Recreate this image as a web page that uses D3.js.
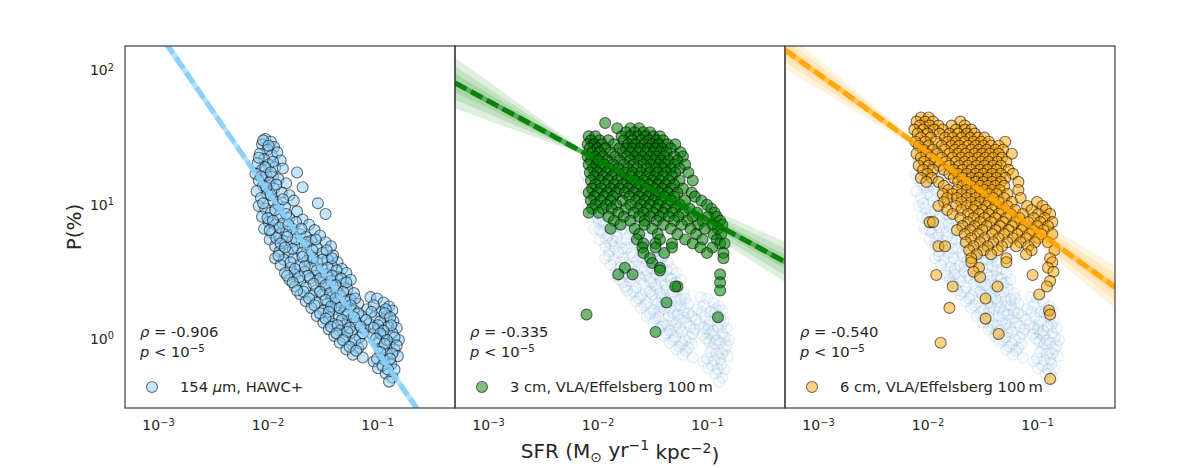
<!DOCTYPE html>
<html>
<head>
<meta charset="utf-8">
<script src="https://cdn.jsdelivr.net/npm/d3@7"></script>
<style>
  html, body { margin: 0; background: #fff; }
  svg { display: block; font-family: "DejaVu Sans", sans-serif; }
</style>
</head>
<body>
<svg id="chart" width="1196" height="468"></svg>
<script>
// ── Data ───────────────────────────────────────────────────────────────────
// HAWC+ 154 µm points: [log10 SFR, log10 P(%)]
const hawcPoints = [
  [-2.02, 1.47], [-1.97, 1.45], [-2.05, 1.43], [-1.94, 1.41], [-2.00, 1.39], [-2.07, 1.36], [-1.96, 1.35],
  [-1.91, 1.37], [-2.03, 1.32], [-1.88, 1.31], [-2.09, 1.29], [-1.99, 1.28], [-1.93, 1.26], [-2.05, 1.24],
  [-1.86, 1.25], [-2.11, 1.21], [-2.01, 1.20], [-1.95, 1.19], [-1.73, 1.22], [-2.08, 1.16], [-1.98, 1.15],
  [-1.90, 1.17], [-1.83, 1.14], [-2.04, 1.12], [-1.94, 1.10], [-1.68, 1.11], [-2.10, 1.08], [-2.00, 1.06],
  [-1.87, 1.07], [-1.80, 1.05], [-2.06, 1.03], [-1.95, 1.01], [-1.90, 0.98], [-1.76, 1.01], [-2.08, 0.97],
  [-2.02, 0.95], [-1.84, 0.96], [-1.54, 0.99], [-1.97, 0.92], [-1.89, 0.90], [-1.73, 0.93], [-1.47, 0.91],
  [-2.05, 0.89], [-1.80, 0.88], [-1.68, 0.87], [-1.99, 0.85], [-1.93, 0.83], [-1.86, 0.84], [-1.62, 0.83],
  [-2.03, 0.80], [-1.77, 0.80], [-1.57, 0.79], [-1.96, 0.77], [-1.90, 0.75], [-1.83, 0.78], [-1.70, 0.76],
  [-1.65, 0.74], [-1.52, 0.75], [-1.98, 0.72], [-1.86, 0.71], [-1.78, 0.70], [-1.60, 0.71], [-1.47, 0.70],
  [-1.93, 0.67], [-1.73, 0.66], [-1.66, 0.68], [-1.55, 0.66], [-1.42, 0.67], [-1.89, 0.63], [-1.81, 0.62],
  [-1.69, 0.62], [-1.61, 0.60], [-1.50, 0.62], [-1.40, 0.60], [-1.93, 0.58], [-1.85, 0.57], [-1.76, 0.58],
  [-1.64, 0.56], [-1.55, 0.55], [-1.45, 0.57], [-1.36, 0.55], [-1.88, 0.53], [-1.79, 0.51], [-1.71, 0.53],
  [-1.60, 0.51], [-1.50, 0.50], [-1.41, 0.52], [-1.32, 0.50], [-1.84, 0.47], [-1.75, 0.46], [-1.66, 0.48],
  [-1.56, 0.45], [-1.46, 0.46], [-1.36, 0.44], [-1.28, 0.47], [-1.80, 0.42], [-1.70, 0.41], [-1.61, 0.43],
  [-1.51, 0.40], [-1.42, 0.41], [-1.31, 0.39], [-1.24, 0.42], [-1.75, 0.37], [-1.65, 0.36], [-1.56, 0.34],
  [-1.46, 0.36], [-1.37, 0.34], [-1.27, 0.35], [-1.21, 0.32], [-1.70, 0.31], [-1.60, 0.30], [-1.50, 0.31],
  [-1.41, 0.29], [-1.33, 0.30], [-1.24, 0.27], [-1.06, 0.29], [-1.00, 0.28], [-1.65, 0.26], [-1.55, 0.25],
  [-1.45, 0.24], [-1.36, 0.25], [-1.28, 0.22], [-1.17, 0.24], [-0.94, 0.25], [-0.89, 0.22], [-1.60, 0.21],
  [-1.49, 0.19], [-1.39, 0.20], [-1.31, 0.17], [-1.21, 0.19], [-1.09, 0.20], [-0.97, 0.18], [-0.86, 0.19],
  [-1.55, 0.15], [-1.44, 0.14], [-1.35, 0.15], [-1.25, 0.12], [-1.14, 0.15], [-1.02, 0.14], [-0.91, 0.15],
  [-1.49, 0.10], [-1.40, 0.09], [-1.29, 0.08], [-1.19, 0.10], [-1.07, 0.09], [-0.97, 0.11], [-0.85, 0.11],
  [-1.44, 0.05], [-1.34, 0.04], [-1.23, 0.03], [-1.11, 0.05], [-0.99, 0.05], [-0.90, 0.07], [-0.82, 0.06],
  [-1.39, 0.00], [-1.29, -0.01], [-1.16, -0.01], [-1.04, 0.01], [-0.94, 0.00], [-0.86, 0.02], [-1.34, -0.05],
  [-1.23, -0.06], [-0.98, -0.04], [-0.88, -0.05], [-0.80, -0.03], [-1.28, -0.10], [-1.17, -0.09], [-0.95, -0.09],
  [-0.84, -0.10], [-1.22, -0.14], [-1.13, -0.16], [-0.91, -0.13], [-0.81, -0.15], [-1.03, -0.19], [-0.93, -0.18],
  [-0.87, -0.21], [-0.99, -0.24], [-0.84, -0.25], [-0.92, -0.28], [-0.86, -0.31], [-0.89, -0.34],
  [-2.04, 1.46], [-1.99, 1.42], [-2.08, 1.33], [-1.95, 1.30], [-2.02, 1.26], [-1.97, 1.22], [-2.06, 1.19],
  [-1.92, 1.13], [-2.01, 1.11], [-1.97, 1.05], [-2.04, 0.99], [-1.86, 1.02], [-1.93, 0.94], [-2.00, 0.88],
  [-1.83, 0.91], [-1.95, 0.86], [-1.74, 0.85], [-1.89, 0.81], [-1.81, 0.83], [-1.98, 0.79], [-1.69, 0.80],
  [-1.92, 0.73], [-1.74, 0.72], [-1.82, 0.74], [-1.64, 0.70], [-1.56, 0.72], [-1.88, 0.69], [-1.77, 0.65],
  [-1.59, 0.64], [-1.84, 0.66], [-1.46, 0.64], [-1.68, 0.59], [-1.90, 0.60], [-1.58, 0.58], [-1.79, 0.55],
  [-1.50, 0.57], [-1.41, 0.58], [-1.66, 0.52], [-1.75, 0.50], [-1.55, 0.49], [-1.45, 0.51], [-1.37, 0.49],
  [-1.82, 0.45], [-1.63, 0.45], [-1.71, 0.44], [-1.52, 0.43], [-1.41, 0.45], [-1.33, 0.43], [-1.77, 0.40],
  [-1.58, 0.39], [-1.47, 0.38], [-1.38, 0.38], [-1.28, 0.40], [-1.67, 0.33], [-1.52, 0.33], [-1.43, 0.32],
  [-1.31, 0.33], [-1.73, 0.34], [-1.62, 0.28], [-1.47, 0.27], [-1.38, 0.28], [-1.29, 0.26], [-1.20, 0.28],
  [-1.57, 0.23], [-1.42, 0.22], [-1.34, 0.21], [-1.24, 0.23], [-1.03, 0.23], [-0.92, 0.20], [-1.52, 0.17],
  [-1.44, 0.18], [-1.27, 0.16], [-1.17, 0.17], [-1.05, 0.18], [-0.93, 0.17], [-0.88, 0.14], [-1.47, 0.13],
  [-1.32, 0.12], [-1.21, 0.14], [-1.10, 0.12], [-0.99, 0.08], [-0.87, 0.08], [-1.42, 0.07], [-1.36, 0.08],
  [-1.25, 0.06], [-1.15, 0.07], [-1.03, 0.06], [-0.94, 0.04], [-1.37, 0.02], [-1.27, 0.03], [-1.13, 0.02],
  [-0.97, 0.02], [-0.84, -0.01], [-1.31, -0.03], [-1.20, -0.03], [-1.01, -0.02], [-0.91, -0.03], [-1.25, -0.08],
  [-1.14, -0.06], [-0.93, -0.06], [-0.82, -0.07], [-1.19, -0.11], [-0.97, -0.12], [-0.86, -0.13], [-1.00, -0.17],
  [-0.88, -0.17], [-0.95, -0.22], [-0.90, -0.25]
];

// Radio points, one row per height: [log10 P(%), [log10 SFR of the points at that height]]
const vla3Rows = [
  [1.59, [-1.93]],
  [1.55, [-1.82, -1.70, -1.62]],
  [1.52, [-1.74, -1.66, -1.58, -1.52]],
  [1.49, [-2.08, -2.02, -1.78, -1.70, -1.63, -1.56, -1.49, -1.43]],
  [1.46, [-2.06, -1.98, -1.90, -1.76, -1.68, -1.60, -1.53, -1.46, -1.40]],
  [1.43, [-2.09, -2.03, -1.96, -1.85, -1.72, -1.65, -1.57, -1.50, -1.44, -1.36, -1.29]],
  [1.40, [-2.07, -2.00, -1.93, -1.80, -1.74, -1.68, -1.61, -1.54, -1.47, -1.41, -1.33]],
  [1.37, [-2.05, -1.98, -1.88, -1.77, -1.70, -1.63, -1.56, -1.49, -1.43, -1.37, -1.24]],
  [1.34, [-2.09, -2.02, -1.95, -1.84, -1.73, -1.66, -1.59, -1.52, -1.46, -1.39, -1.30, -1.22]],
  [1.31, [-2.06, -1.99, -1.91, -1.80, -1.70, -1.62, -1.55, -1.48, -1.42, -1.35, -1.27]],
  [1.28, [-2.08, -2.01, -1.94, -1.86, -1.76, -1.67, -1.58, -1.51, -1.44, -1.38, -1.30, -1.20]],
  [1.25, [-2.04, -1.97, -1.89, -1.81, -1.72, -1.64, -1.55, -1.47, -1.40, -1.33, -1.25]],
  [1.22, [-2.07, -2.00, -1.92, -1.84, -1.75, -1.68, -1.60, -1.52, -1.45, -1.37, -1.29, -1.17]],
  [1.19, [-2.03, -1.95, -1.87, -1.78, -1.70, -1.62, -1.55, -1.48, -1.40, -1.32]],
  [1.16, [-2.06, -1.98, -1.90, -1.82, -1.73, -1.66, -1.58, -1.50, -1.43, -1.35, -1.25, -1.13]],
  [1.13, [-2.02, -1.93, -1.85, -1.77, -1.69, -1.61, -1.53, -1.45, -1.38, -1.30]],
  [1.10, [-2.05, -1.97, -1.88, -1.80, -1.72, -1.64, -1.56, -1.48, -1.41, -1.33, -1.22]],
  [1.07, [-2.08, -2.00, -1.91, -1.83, -1.75, -1.67, -1.59, -1.51, -1.44, -1.36, -1.27, -1.14]],
  [1.04, [-2.03, -1.94, -1.86, -1.71, -1.62, -1.54, -1.47, -1.39, -1.30, -1.11]],
  [1.01, [-2.06, -1.97, -1.88, -1.77, -1.65, -1.57, -1.49, -1.42, -1.33, -1.20, -1.05]],
  [0.98, [-2.02, -1.92, -1.83, -1.70, -1.60, -1.52, -1.44, -1.36, -1.25, -1.00]],
  [0.95, [-2.05, -1.95, -1.87, -1.74, -1.63, -1.55, -1.46, -1.38, -1.29, -1.16, -0.96]],
  [0.92, [-2.08, -1.99, -1.81, -1.67, -1.58, -1.49, -1.40, -1.32, -1.22, -1.09, -0.93]],
  [0.89, [-1.90, -1.76, -1.62, -1.52, -1.43, -1.35, -1.26, -1.13, -0.99, -0.91]],
  [0.86, [-1.85, -1.70, -1.57, -1.46, -1.30, -1.18, -1.04, -0.88]],
  [0.83, [-1.79, -1.57, -1.40, -1.23, -1.08, -0.95, -0.86]],
  [0.80, [-1.88, -1.66, -1.50, -1.33, -1.15, -1.02, -0.90]],
  [0.76, [-1.62, -1.45, -1.27, -1.10, -0.94, -0.87]],
  [0.72, [-1.64, -1.43, -1.20, -1.04, -0.91]],
  [0.69, [-1.58, -1.47, -1.32, -1.13, -0.88, -0.84]],
  [0.66, [-1.59, -1.47, -1.32, -1.06, -0.95]],
  [0.62, [-1.58, -1.39, -1.00, -0.85]],
  [0.58, [-1.52, -0.85]],
  [0.545, [-1.50]],
  [0.51, [-1.75, -1.43]],
  [0.49, [-1.43]],
  [0.46, [-1.81, -1.68, -0.88]],
  [0.40, [-0.88]],
  [0.37, [-1.27, -1.29]],
  [0.34, [-0.88]],
  [0.25, [-1.37]],
  [0.16, [-2.10]],
  [0.14, [-0.90]],
  [0.03, [-1.47]]
];

const vla6Rows = [
  [1.63, [-2.06, -1.99]],
  [1.60, [-2.10, -2.02, -1.95, -1.70]],
  [1.57, [-2.07, -1.98, -1.90, -1.78, -1.66]],
  [1.54, [-2.12, -2.04, -1.94, -1.86, -1.74, -1.66, -1.60]],
  [1.51, [-2.09, -2.00, -1.89, -1.80, -1.72, -1.64, -1.57]],
  [1.48, [-2.06, -1.97, -1.84, -1.77, -1.69, -1.61, -1.54, -1.48]],
  [1.45, [-2.11, -2.02, -1.92, -1.81, -1.74, -1.66, -1.58, -1.51, -1.44, -1.29]],
  [1.42, [-2.08, -1.99, -1.87, -1.78, -1.71, -1.63, -1.56, -1.49, -1.42, -1.35]],
  [1.39, [-2.04, -1.95, -1.84, -1.75, -1.68, -1.60, -1.53, -1.46, -1.38, -1.31]],
  [1.36, [-2.10, -2.01, -1.91, -1.80, -1.72, -1.65, -1.57, -1.50, -1.43, -1.35, -1.23]],
  [1.33, [-2.06, -1.97, -1.87, -1.77, -1.69, -1.62, -1.54, -1.47, -1.40, -1.32]],
  [1.30, [-2.03, -1.93, -1.83, -1.74, -1.66, -1.59, -1.51, -1.44, -1.36, -1.28]],
  [1.27, [-2.08, -1.99, -1.89, -1.80, -1.71, -1.63, -1.55, -1.48, -1.40, -1.33]],
  [1.24, [-2.04, -1.95, -1.85, -1.76, -1.68, -1.60, -1.52, -1.45, -1.37, -1.26]],
  [1.21, [-2.00, -1.80, -1.72, -1.64, -1.56, -1.49, -1.41, -1.33, -1.22]],
  [1.18, [-2.06, -1.96, -1.76, -1.68, -1.60, -1.53, -1.45, -1.37, -1.29]],
  [1.15, [-2.01, -1.90, -1.72, -1.64, -1.56, -1.49, -1.41, -1.33, -1.17]],
  [1.12, [-1.85, -1.68, -1.60, -1.52, -1.45, -1.38, -1.30]],
  [1.09, [-1.81, -1.73, -1.64, -1.56, -1.48, -1.41, -1.34, -1.17]],
  [1.06, [-1.86, -1.77, -1.69, -1.60, -1.52, -1.44, -1.37, -1.27]],
  [1.03, [-1.82, -1.73, -1.64, -1.56, -1.48, -1.40, -1.30, -1.15]],
  [1.00, [-1.85, -1.69, -1.60, -1.52, -1.44, -1.35, -1.23, -1.00]],
  [0.97, [-1.90, -1.74, -1.64, -1.56, -1.46, -1.38, -1.27, -1.09, -0.95]],
  [0.94, [-1.82, -1.69, -1.58, -1.50, -1.41, -1.32, -1.20, -1.05, -0.92]],
  [0.91, [-1.77, -1.63, -1.53, -1.44, -1.35, -1.24, -1.13, -0.99, -0.88]],
  [0.88, [-1.70, -1.58, -1.48, -1.38, -1.28, -1.16, -1.03, -0.93]],
  [0.85, [-1.98, -1.95, -1.63, -1.52, -1.42, -1.31, -1.20, -1.08, -0.97, -0.86]],
  [0.82, [-1.68, -1.57, -1.46, -1.34, -1.23, -1.12, -1.00, -0.90]],
  [0.79, [-1.73, -1.61, -1.50, -1.38, -1.26, -1.14, -1.04, -0.94]],
  [0.76, [-1.66, -1.54, -1.41, -1.30, -1.18, -1.07, -0.96, -0.86]],
  [0.73, [-1.60, -1.48, -1.35, -1.22, -1.10, -0.99]],
  [0.70, [-1.65, -1.52, -1.40, -1.27, -1.15, -1.02, -0.90]],
  [0.67, [-1.90, -1.84, -1.58, -1.45, -1.32, -1.19, -1.08]],
  [0.64, [-1.62, -1.49, -1.36, -1.05, -0.84]],
  [0.61, [-1.55, -1.42, -1.10]],
  [0.58, [-1.60, -1.28, -0.88]],
  [0.55, [-1.60, -1.28, -0.86]],
  [0.51, [-1.53, -0.90]],
  [0.48, [-1.58, -0.85]],
  [0.455, [-1.92, -1.04]],
  [0.44, [-1.52]],
  [0.41, [-0.88]],
  [0.37, [-1.77, -1.36, -0.91]],
  [0.31, [-0.98]],
  [0.28, [-1.47]],
  [0.21, [-1.80]],
  [0.19, [-0.89]],
  [0.16, [-0.88]],
  [0.13, [-1.47]],
  [0.015, [-1.35]],
  [-0.05, [-1.88]],
  [-0.32, [-0.88]]
];

// Panel metadata
const panelColors = ['#87cefa', '#008000', '#ffa500'];
const panelLabels = ['154 \u03bcm, HAWC+', '3 cm, VLA/Effelsberg 100\u2009m', '6 cm, VLA/Effelsberg 100\u2009m'];
const panelRho = ['-0.906', '-0.335', '-0.540'];

// Fit lines in log10 space: log P = slope * log SFR + intercept
const fitSlope = [-1.19, -0.443, -0.587];
const fitIntercept = [-1.298, 0.426, 0.196];
// Confidence bands: pivot (log SFR) and half-widths (dex) at the left/right edges
const bandPivot = [-1.60, -2.07, -1.89];
const bandLeft = [[0.07, 0.045, 0.025], [0.19, 0.125, 0.07], [0.14, 0.09, 0.045]];
const bandRight = [[0.07, 0.045, 0.025], [0.15, 0.10, 0.05], [0.16, 0.10, 0.05]];

const xTicks = [1e-3, 1e-2, 1e-1];
const xTickExp = ['\u22123', '\u22122', '\u22121'];
const yTicks = [1, 10, 100];
const yTickExp = ['0', '1', '2'];

(function () {
  'use strict';

  const svg = d3.select('#chart');
  const textColor = '#262626';
  const panelW = 330, panelH = 362;
  const top = 46;
  const lefts = [125, 455, 785];
  const xDom = [Math.pow(10, -3.3014), Math.pow(10, -0.2877)];
  const yDom = [Math.pow(10, -0.537), Math.pow(10, 2.164)];

  const fromRows = rows => rows.flatMap(([ly, xs]) => xs.map(lx => ({ sfr: Math.pow(10, lx), p: Math.pow(10, ly) })));
  const hawc = hawcPoints.map(([lx, ly]) => ({ sfr: Math.pow(10, lx), p: Math.pow(10, ly) }));
  const datasets = [hawc, fromRows(vla3Rows), fromRows(vla6Rows)];

  const x = d3.scaleLog().domain(xDom).range([0, panelW]);
  const y = d3.scaleLog().domain(yDom).range([panelH, 0]);

  svg.append('defs').append('clipPath').attr('id', 'clip')
    .append('rect').attr('width', panelW).attr('height', panelH);

  // "10" with a superscript exponent
  function powLabel(sel, exps, ticks) {
    sel.selectAll('.tick text').each(function (d) {
      const t = d3.select(this);
      const i = ticks.indexOf(d);
      t.text(null);
      t.append('tspan').text('10');
      t.append('tspan').attr('dy', '-0.45em').attr('font-size', '0.7em').text(exps[i]);
    });
  }

  datasets.forEach((pts, k) => {
    const g = svg.append('g').attr('transform', `translate(${lefts[k]},${top})`);

    // Axes (labels only, no tick marks)
    const xAx = g.append('g')
      .attr('transform', `translate(0,${panelH})`)
      .call(d3.axisBottom(x).tickValues(xTicks).tickSize(0).tickPadding(12))
      .call(ax => ax.select('.domain').remove())
      .call(ax => ax.selectAll('text').attr('fill', textColor).attr('font-size', 14)
        .attr('font-family', '"DejaVu Sans", sans-serif'));
    powLabel(xAx, xTickExp, xTicks);

    if (k === 0) {
      const yAx = g.append('g')
        .call(d3.axisLeft(y).tickValues(yTicks).tickSize(0).tickPadding(11))
        .call(ax => ax.select('.domain').remove())
        .call(ax => ax.selectAll('text').attr('fill', textColor).attr('font-size', 14)
          .attr('dy', '0.5em').attr('font-family', '"DejaVu Sans", sans-serif'));
      powLabel(yAx, yTickExp, yTicks);
    }

    const plot = g.append('g').attr('clip-path', 'url(#clip)');

    // faint HAWC+ points behind the radio data
    if (k > 0) {
      plot.append('g').selectAll('circle')
        .data(hawc)
        .join('circle')
        .attr('cx', d => x(d.sfr))
        .attr('cy', d => y(d.p))
        .attr('r', 5.5)
        .attr('fill', '#87cefa')
        .attr('fill-opacity', 0.08)
        .attr('stroke', '#3b5f7d')
        .attr('stroke-opacity', 0.1)
        .attr('stroke-width', 1.1);
    }

    plot.append('g').selectAll('circle')
      .data(pts)
      .join('circle')
      .attr('cx', d => x(d.sfr))
      .attr('cy', d => y(d.p))
      .attr('r', 5.5)
      .attr('fill', panelColors[k])
      .attr('fill-opacity', k === 1 ? 0.55 : 0.5)
      .attr('stroke', '#000')
      .attr('stroke-opacity', 0.55)
      .attr('stroke-width', 1.1);

    // Confidence bands + fit line
    const lx0 = Math.log10(xDom[0]), lx1 = Math.log10(xDom[1]);
    const fit = lx => fitSlope[k] * lx + fitIntercept[k];
    bandLeft[k].forEach((hl, i) => {
      const hr = bandRight[k][i];
      const edge = [
        { lx: lx0, h: hl },
        { lx: bandPivot[k], h: 0.008 },
        { lx: lx1, h: hr }
      ];
      plot.append('path')
        .datum(edge)
        .attr('d', d3.area()
          .x(d => x(Math.pow(10, d.lx)))
          .y0(d => y(Math.pow(10, fit(d.lx) - d.h)))
          .y1(d => y(Math.pow(10, fit(d.lx) + d.h))))
        .attr('fill', panelColors[k])
        .attr('fill-opacity', 0.13);
    });

    const ends = [lx0, lx1];
    const line = d3.line().x(d => x(Math.pow(10, d))).y(d => y(Math.pow(10, fit(d))));
    plot.append('path').datum(ends).attr('d', line)
      .attr('stroke', panelColors[k]).attr('stroke-width', 5).attr('stroke-opacity', 0.45).attr('fill', 'none');
    plot.append('path').datum(ends).attr('d', line)
      .attr('stroke', panelColors[k]).attr('stroke-width', 5).attr('stroke-opacity', 0.9)
      .attr('stroke-dasharray', '13,5').attr('fill', 'none');

    // Frame
    g.append('rect')
      .attr('width', panelW).attr('height', panelH)
      .attr('fill', 'none').attr('stroke', '#3d3d3d').attr('stroke-width', 1.2);

    // Stats
    const rho = g.append('text').attr('x', 15).attr('y', 291).attr('font-size', 14.7).attr('fill', textColor);
    rho.append('tspan').attr('font-style', 'italic').text('\u03c1');
    rho.append('tspan').text(' = ' + panelRho[k]);
    const pv = g.append('text').attr('x', 15).attr('y', 311).attr('font-size', 14.7).attr('fill', textColor);
    pv.append('tspan').attr('font-style', 'italic').text('p');
    pv.append('tspan').text(' < 10');
    pv.append('tspan').attr('dy', '-0.45em').attr('font-size', '0.7em').text('\u22125');

    // Legend
    g.append('circle').attr('cx', 27).attr('cy', 341).attr('r', 5.5)
      .attr('fill', panelColors[k]).attr('fill-opacity', 0.5)
      .attr('stroke', '#000').attr('stroke-opacity', 0.55).attr('stroke-width', 1.1);
    const lab = g.append('text').attr('x', 55).attr('y', 346).attr('font-size', 14.7).attr('fill', textColor);
    if (k === 0) {
      lab.append('tspan').text('154 ');
      lab.append('tspan').attr('font-style', 'italic').text('\u03bc');
      lab.append('tspan').text('m, HAWC+');
    } else {
      lab.text(panelLabels[k]);
    }
  });

  // Axis titles
  svg.append('text')
    .attr('transform', 'translate(81,227) rotate(-90)')
    .attr('text-anchor', 'middle')
    .attr('font-size', 20).attr('fill', textColor)
    .text('P(%)');

  const xl = svg.append('text')
    .attr('x', 620).attr('y', 458)
    .attr('text-anchor', 'middle')
    .attr('font-size', 20).attr('fill', textColor);
  xl.append('tspan').text('SFR (M');
  xl.append('tspan').attr('dy', '0.25em').attr('font-size', '0.7em').text('\u2299');
  xl.append('tspan').attr('dy', '-0.25em').text(' yr');
  xl.append('tspan').attr('dy', '-0.45em').attr('font-size', '0.7em').text('\u22121');
  xl.append('tspan').attr('dy', '0.45em').text(' kpc');
  xl.append('tspan').attr('dy', '-0.45em').attr('font-size', '0.7em').text('\u22122');
  xl.append('tspan').attr('dy', '0.45em').text(')');
})();
</script>
</body>
</html>
